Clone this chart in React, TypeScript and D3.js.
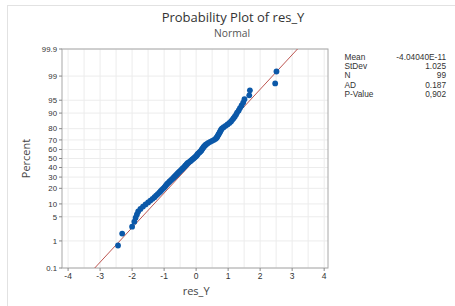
import React from 'react';
import { scaleLinear, range } from 'd3';

const width = 455;
const height = 306;
const plot = { left: 62, top: 49, right: 328, bottom: 268 };

// sorted residuals
const resY = [
  -2.44, -2.31, -2.00, -1.93, -1.89, -1.85, -1.81, -1.74, -1.66, -1.58,
  -1.50, -1.43, -1.36, -1.30, -1.25, -1.20, -1.15, -1.11, -1.07, -1.03,
  -0.99, -0.96, -0.93, -0.90, -0.86, -0.83, -0.79, -0.76, -0.72, -0.69,
  -0.66, -0.63, -0.60, -0.57, -0.54, -0.51, -0.48, -0.45, -0.42, -0.39,
  -0.36, -0.34, -0.31, -0.29, -0.26, -0.22, -0.18, -0.15, -0.12, -0.08,
  -0.05, -0.02, 0.01, 0.03, 0.05, 0.08, 0.11, 0.14, 0.16, 0.18,
  0.20, 0.22, 0.24, 0.27, 0.30, 0.34, 0.38, 0.44, 0.50, 0.56,
  0.61, 0.64, 0.66, 0.68, 0.70, 0.72, 0.74, 0.76, 0.78, 0.81,
  0.86, 0.92, 0.98, 1.04, 1.09, 1.13, 1.17, 1.21, 1.25, 1.28,
  1.33, 1.37, 1.42, 1.47, 1.51, 1.66, 1.68, 2.47, 2.51,
];

const percentTicks = [0.1, 1, 5, 10, 20, 30, 40, 50, 60, 70, 80, 90, 95, 99, 99.9];
const percentLabels = ['0.1', '1', '5', '10', '20', '30', '40', '50', '60', '70', '80', '90', '95', '99', '99.9'];
const xTicks = [-4, -3, -2, -1, 0, 1, 2, 3, 4];

const statNames = ['Mean', 'StDev', 'N', 'AD', 'P-Value'];
const statValues = ['-4.04040E-11', '1.025', '99', '0.187', '0,902'];
const fitMean = 0;
const fitSd = 1.025;

// inverse normal cdf (Acklam)
function qnorm(p: number) {
  const a = [-39.69683028665376, 220.9460984245205, -275.9285104469687, 138.357751867269, -30.66479806614716, 2.506628277459239];
  const b = [-54.47609879822406, 161.5858368580409, -155.6989798598866, 66.80131188771972, -13.28068155288572];
  const c = [-0.007784894002430293, -0.3223964580411365, -2.400758277161838, -2.549732539343734, 4.374664141464968, 2.938163982698783];
  const d = [0.007784695709041462, 0.3224671290700398, 2.445134137142996, 3.754408661907416];
  const pl = 0.02425;
  if (p < pl) {
    const q = Math.sqrt(-2 * Math.log(p));
    return (((((c[0] * q + c[1]) * q + c[2]) * q + c[3]) * q + c[4]) * q + c[5]) / ((((d[0] * q + d[1]) * q + d[2]) * q + d[3]) * q + 1);
  }
  if (p > 1 - pl) {
    const q = Math.sqrt(-2 * Math.log(1 - p));
    return -(((((c[0] * q + c[1]) * q + c[2]) * q + c[3]) * q + c[4]) * q + c[5]) / ((((d[0] * q + d[1]) * q + d[2]) * q + d[3]) * q + 1);
  }
  const q = p - 0.5;
  const r = q * q;
  return (((((a[0] * r + a[1]) * r + a[2]) * r + a[3]) * r + a[4]) * r + a[5]) * q / (((((b[0] * r + b[1]) * r + b[2]) * r + b[3]) * r + b[4]) * r + 1);
}

const zMax = qnorm(0.999);
const font = '"Open Sans", "Noto Sans", sans-serif';
const smallFont = '"Liberation Sans", Arial, sans-serif';

export default function App() {
  const x = scaleLinear().domain([-4.19, 4.12]).range([plot.left, plot.right]);
  const y = scaleLinear().domain([-zMax, zMax]).range([plot.bottom, plot.top]);
  const n = resY.length;
  const pts = resY.map((v, i) => ({ v, z: qnorm((i + 1 - 0.3) / (n + 0.4)) }));
  const halfGrid = range(-4, 4.01, 0.5);

  return (
    <svg width={width} height={height} style={{ position: 'absolute', left: 0, top: 0 }} fontFamily={font}>
      <rect x={0} y={0} width={width} height={height} fill="#fff" />
      <rect x={7.5} y={5.5} width={470} height={320} fill="none" stroke="#e2e2e2" />

      <text x={233} y={22} textAnchor="middle" fontSize={13} fill="#333">Probability Plot of res_Y</text>
      <text x={232} y={37} textAnchor="middle" fontSize={10.3} fill="#555">Normal</text>

      {/* grid */}
      {halfGrid.map(t => (
        <line key={'gx' + t} x1={x(t)} x2={x(t)} y1={plot.top} y2={plot.bottom} stroke="#ececec" />
      ))}
      {percentTicks.map(p => (
        <line key={'gy' + p} x1={plot.left} x2={plot.right} y1={y(qnorm(p / 100))} y2={y(qnorm(p / 100))} stroke="#ececec" />
      ))}
      <rect x={plot.left} y={plot.top} width={plot.right - plot.left} height={plot.bottom - plot.top} fill="none" stroke="#a8a8a8" />

      {/* y axis */}
      {percentTicks.map((p, i) => (
        <g key={'ty' + p} transform={`translate(0,${y(qnorm(p / 100))})`}>
          <line x1={plot.left - 3} x2={plot.left} stroke="#888" />
          <text x={plot.left - 5} dy="0.35em" textAnchor="end" fontSize={7.8} fontFamily={smallFont} fill="#333">{percentLabels[i]}</text>
        </g>
      ))}
      <text transform={`translate(30,${(plot.top + plot.bottom) / 2}) rotate(-90)`} textAnchor="middle" fontSize={11} fill="#444">Percent</text>

      {/* x axis */}
      {xTicks.map(t => (
        <g key={'tx' + t} transform={`translate(${x(t)},${plot.bottom})`}>
          <line y1={0} y2={3} stroke="#888" />
          <text y={10.5} textAnchor="middle" fontSize={8.5} fontFamily={smallFont} fill="#333">{t}</text>
        </g>
      ))}
      <text x={x(0)} y={295} textAnchor="middle" fontSize={11} fill="#444">res_Y</text>

      {/* fitted line */}
      <line x1={x(fitMean - fitSd * zMax)} y1={y(-zMax)} x2={x(fitMean + fitSd * zMax)} y2={y(zMax)} stroke="#bd5651" strokeWidth={1} />

      {/* points */}
      {pts.map((d, i) => (
        <circle key={i} cx={x(d.v)} cy={y(d.z)} r={2.9} fill="#0b58a8" />
      ))}

      {/* stats */}
      {statNames.map((s, i) => (
        <g key={s} transform={`translate(0,${59.5 + i * 9.4})`}>
          <text x={344.5} fontSize={8.3} fontFamily={smallFont} fill="#333">{s}</text>
          <text x={446} textAnchor="end" fontSize={8.3} fontFamily={smallFont} fill="#333">{statValues[i]}</text>
        </g>
      ))}
    </svg>
  );
}
